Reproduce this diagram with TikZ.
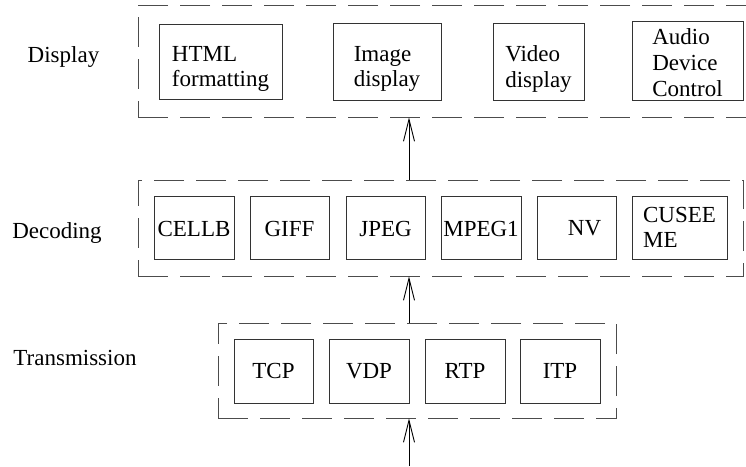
\documentclass[tikz,border=0pt]{standalone}
\usepackage{fontspec}
\setmainfont{Liberation Serif}
\usetikzlibrary{arrows.meta}
\usetikzlibrary{fit}

\begin{document}
\begin{tikzpicture}[x=1pt,y=-1pt,
  box/.style={draw=black!80,line width=0.9pt,inner sep=0pt},
  boxtext/.style={align=left,inner sep=0pt,font=\fontsize{23}{25.7}\selectfont},
  group/.style={draw=black!70,line width=0.9pt,dash pattern=on 30pt off 12pt,inner sep=0pt},
  layer/.style={font=\fontsize{23}{25.7}\selectfont,anchor=base},
  uparrow/.style={line width=0.9pt,-{Straight Barb[length=22pt,width=11pt]}}]
\newcommand{\modbox}[7][0]{
  \node[box,minimum width=#5pt,minimum height=#6pt] (#2) at (#3,#4) {};
  \node[boxtext] (#2text) at ([yshift=#1pt]#2.center) {#7};
}

\useasboundingbox (0,0) rectangle (746,466);

% layers
\node[group,fit={(138,5) (748,117)}] (dispgroup) {};
\node[group,fit={(138,180) (743,276)}] (decgroup) {};
\node[group,fit={(218,323) (616,418)}] (trgroup) {};

\node[layer] (displabel) at (63.5,62) {Display};
\node[layer] (declabel) at (57,238) {Decoding};
\node[layer] (trlabel) at (75,365) {Transmission};

% display
\modbox[-7.5]{html}{220.5}{61.5}{123}{75}{HTML\\formatting}
\modbox[-7.5]{imgdisp}{387}{61.5}{108}{77}{Image\\display}
\modbox[-7.5]{viddisp}{538.5}{61.5}{91}{77}{Video\\display}
\modbox[-2]{audio}{687.5}{60.5}{111}{79}{Audio\\Device\\Control}

% decoding
\modbox[-1]{cellb}{194}{227.5}{80}{63}{CELLB}
\modbox[-1]{giff}{289.5}{227.5}{79}{63}{GIFF}
\modbox[-1]{jpeg}{385.5}{227.5}{79}{63}{JPEG}
\modbox[-1]{mpeg}{481}{227.5}{80}{63}{MPEG1}
\modbox[-1]{nv}{576.5}{227.5}{79}{63}{\hspace{16pt}NV}
\modbox{cusee}{679.5}{227.5}{95}{63}{CUSEE\\ME}

% transmission
\modbox{tcp}{273.5}{371}{79}{64}{TCP}
\modbox{vdp}{369}{371}{80}{64}{VDP}
\modbox{rtp}{465}{371}{80}{64}{RTP}
\modbox{itp}{560}{371}{80}{64}{ITP}

\coordinate (spine) at (409,0);
\coordinate (source) at (409,466);
\draw[uparrow] (decgroup.north -| spine) -- (dispgroup.south -| spine);
\draw[uparrow] (trgroup.north -| spine) -- (decgroup.south -| spine);
\draw[uparrow] (source) -- (trgroup.south -| spine);

\end{tikzpicture}
\end{document}
